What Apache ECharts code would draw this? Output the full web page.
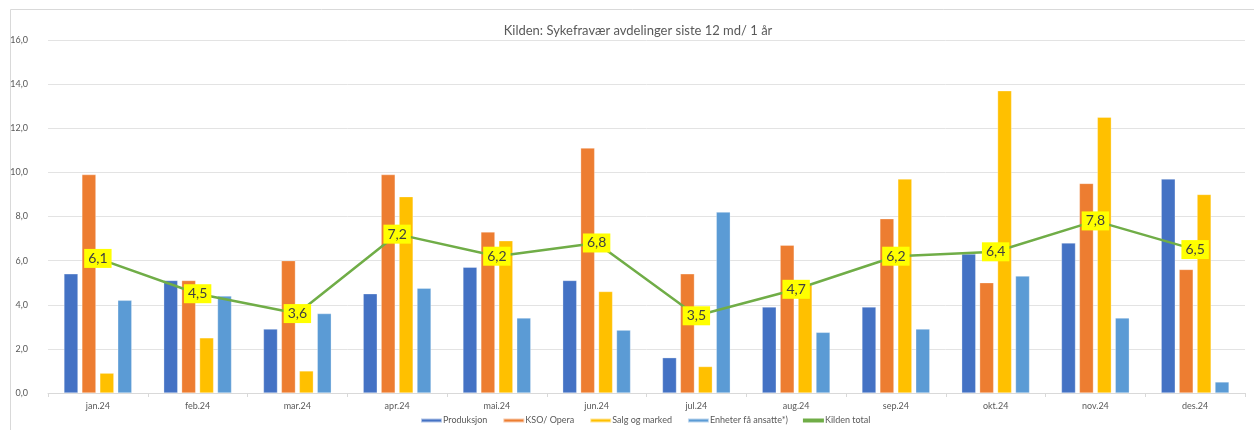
<!DOCTYPE html>
<html>
<head>
<meta charset="utf-8">
<script src="https://cdn.jsdelivr.net/npm/echarts@6/dist/echarts.min.js"></script>
<style>
  html, body { margin: 0; padding: 0; background: #fff; }
  #grafico { width: 1254px; height: 430px; }
</style>
</head>
<body>
<div id="grafico"></div>
<script>
// Datos
const maaneder = ['jan.24', 'feb.24', 'mar.24', 'apr.24', 'mai.24', 'jun.24', 'jul.24', 'aug.24', 'sep.24', 'okt.24', 'nov.24', 'des.24'];
const produksjon = [5.4, 5.1, 2.9, 4.5, 5.7, 5.1, 1.6, 3.9, 3.9, 6.3, 6.8, 9.7];
const ksoOpera = [9.9, 5.1, 6.0, 9.9, 7.3, 11.1, 5.4, 6.7, 7.9, 5.0, 9.5, 5.6];
const salgMarked = [0.9, 2.5, 1.0, 8.9, 6.9, 4.6, 1.2, 4.9, 9.7, 13.7, 12.5, 9.0];
const enheter = [4.2, 4.4, 3.6, 4.75, 3.4, 2.85, 8.2, 2.75, 2.9, 5.3, 3.4, 0.5];
const kildenTotal = [6.1, 4.5, 3.6, 7.2, 6.2, 6.8, 3.5, 4.7, 6.2, 6.4, 7.8, 6.5];

const fmt = v => Number(v).toFixed(1).replace('.', ',');

function stolpe(navn, data, farge) {
    return {
        name: navn,
        type: 'bar',
        data: data,
        barGap: '28%',
        barCategoryGap: '32%',
        itemStyle: { color: farge, borderColor: 'rgba(255,255,255,0.6)', borderWidth: 0.5 }
    };
}

function iniciar() {
    const chartDom = document.getElementById('grafico');
    const myChart = echarts.init(chartDom, null, { renderer: 'canvas' });

    const option = {
        animation: false,
        textStyle: { fontFamily: 'Lato, "Open Sans", sans-serif' },
        graphic: [{
            type: 'rect',
            shape: { x: 10.5, y: 9.5, width: 1260, height: 440 },
            style: { fill: 'none', stroke: '#d9d9d9', lineWidth: 1 },
            silent: true
        }],
        title: {
            text: 'Kilden: Sykefravær avdelinger siste 12 md/ 1 år',
            left: 633,
            textAlign: 'center',
            top: 19,
            textStyle: { fontSize: 13, fontWeight: 'normal', color: '#595959' }
        },
        legend: {
            bottom: 0,
            left: 415,
            itemWidth: 21,
            itemHeight: 4,
            itemGap: 15,
            icon: 'rect',
            textStyle: { fontSize: 9, color: '#595959', padding: [0, 0, 0, -4] },
            data: ['Produksjon', 'KSO/ Opera', 'Salg og marked', 'Enheter få ansatte*)', 'Kilden total']
        },
        grid: { left: 48, right: 9, top: 40, bottom: 37, containLabel: false },
        xAxis: {
            type: 'category',
            data: maaneder,
            axisLine: { lineStyle: { color: '#d9d9d9' } },
            axisTick: { show: true, length: 4, lineStyle: { color: '#d9d9d9' } },
            axisLabel: { fontSize: 9, color: '#595959', margin: 9 }
        },
        yAxis: {
            type: 'value',
            min: 0,
            max: 16,
            interval: 2,
            axisLine: { show: false },
            axisTick: { show: false },
            splitLine: { lineStyle: { color: '#e3e3e3' } },
            axisLabel: { fontSize: 9, color: '#595959', margin: 20, formatter: v => fmt(v) }
        },
        series: [
            stolpe('Produksjon', produksjon, '#4472C4'),
            stolpe('KSO/ Opera', ksoOpera, '#ED7D31'),
            stolpe('Salg og marked', salgMarked, '#FFC000'),
            stolpe('Enheter få ansatte*)', enheter, '#5B9BD5'),
            {
                name: 'Kilden total',
                type: 'line',
                data: kildenTotal,
                symbol: 'circle',
                symbolSize: 1,
                itemStyle: { color: '#70AD47' },
                lineStyle: { color: '#70AD47', width: 2.5 },
                z: 5,
                label: {
                    show: true,
                    position: 'inside',
                    formatter: p => fmt(p.value),
                    backgroundColor: '#FFFF00',
                    color: '#404040',
                    fontSize: 14,
                    padding: [3, 4, 2, 4]
                }
            }
        ]
    };

    myChart.setOption(option);
}

iniciar();
</script>
</body>
</html>
